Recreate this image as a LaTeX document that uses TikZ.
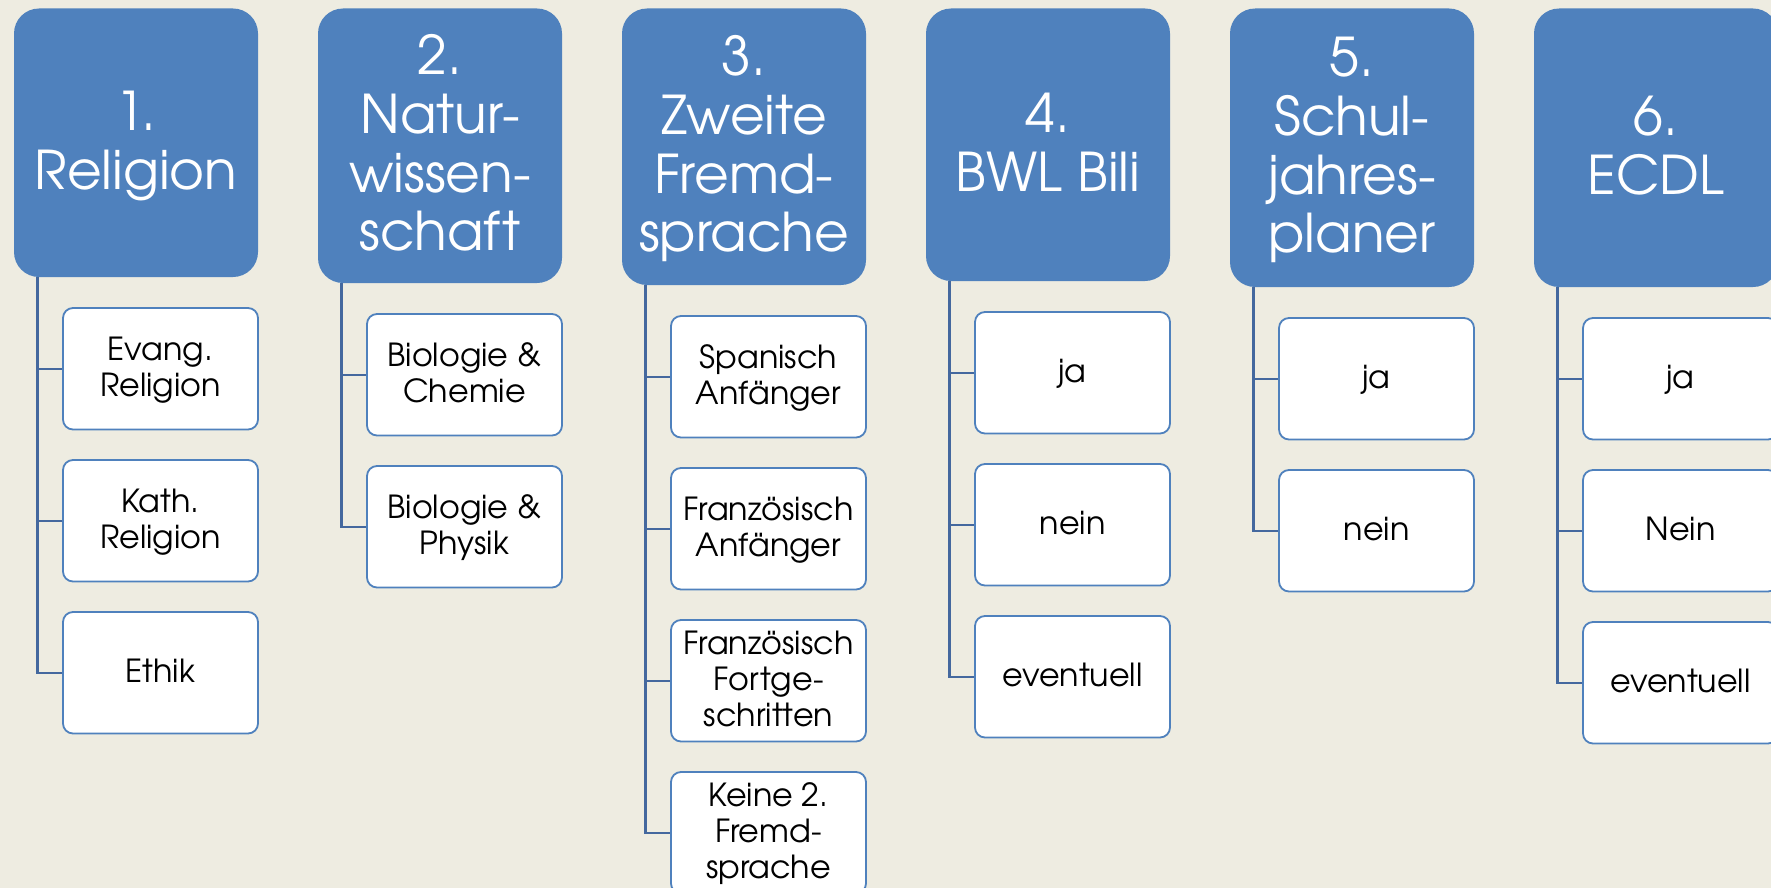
\documentclass[tikz,border=0pt]{standalone}
\usepackage{fontspec}
\setmainfont{texgyreadventor-regular.otf}
\usetikzlibrary{calc}
\definecolor{bgc}{HTML}{EEECE1}
\definecolor{acc}{HTML}{4F81BD}
\definecolor{linec}{HTML}{44689E}
% struts fixing the first-line top and last-line bottom
\newcommand\hT{\rule{0pt}{24pt}}
\newcommand\hB{\rule[-7pt]{0pt}{7pt}}
\newcommand\lT{\rule{0pt}{15pt}}
\newcommand\lB{\rule[-5pt]{0pt}{5pt}}
\tikzset{
  hdr/.style={rectangle, rounded corners=12.5pt, fill=acc, draw=none,
    text=white, align=center, inner sep=0pt, minimum width=122pt,
    font=\fontsize{26.7}{29.4}\selectfont},
  leaf/.style={rectangle, rounded corners=5pt, fill=white, draw=acc,
    line width=0.9pt, text=black, align=center, inner sep=0pt,
    minimum width=97.5pt, minimum height=60.75pt,
    font=\fontsize{15.9}{18}\selectfont},
  conn/.style={draw=linec, line width=1.2pt},
}
\begin{document}
\begin{tikzpicture}[x=0.5pt,y=-0.5pt]
\useasboundingbox (0,0) rectangle (1771,888);
\clip (0,0) rectangle (1771,888);
\fill[bgc] (0,0) rectangle (1771,888);

% headers
\node[hdr, minimum height=134.25pt] (h1) at (136,142.75) {\hT 1.\\Religion\hB};
\node[hdr, minimum height=137.25pt] (h2) at (440,145.75) {\hT 2.\\Natur-\\wissen-\\schaft\hB};
\node[hdr, minimum height=138.25pt] (h3) at (744,146.75) {\hT 3.\\Zweite\\Fremd-\\sprache\hB};
\node[hdr, minimum height=136.25pt] (h4) at (1048,144.75) {\hT 4.\\BWL Bili\hB};
\node[hdr, minimum height=139.25pt] (h5) at (1352,147.75) {\hT 5.\\Schul-\\jahres-\\planer\hB};
\node[hdr, minimum height=139.25pt] (h6) at (1656,147.75) {\hT 6.\\ECDL\hB};

% trunk tops
\foreach \i in {1,...,6} {
  \coordinate (t\i) at ($(h\i.south west)+(24,0)$);
}

% leaves column 1
\node[leaf] (a1) at (160.5,368.75) {\lT Evang.\\Religion\lB};
\node[leaf] (a2) at (160.5,520.75) {\lT Kath.\\Religion\lB};
\node[leaf] (a3) at (160.5,672.75) {\lT Ethik\lB};
% column 2
\node[leaf] (b1) at (464.5,374.75) {\lT Biologie \&\\Chemie\lB};
\node[leaf] (b2) at (464.5,526.75) {\lT Biologie \&\\Physik\lB};
% column 3
\node[leaf] (c1) at (768.5,376.75) {\lT Spanisch\\Anfänger\lB};
\node[leaf] (c2) at (768.5,528.75) {\lT Französisch\\Anfänger\lB};
\node[leaf] (c3) at (768.5,680.75) {\lT Französisch\\Fortge-\\schritten\lB};
\node[leaf] (c4) at (768.5,832.75) {\lT Keine 2.\\Fremd-\\sprache\lB};
% column 4
\node[leaf] (d1) at (1072.5,372.75) {\lT ja\lB};
\node[leaf] (d2) at (1072.5,524.75) {\lT nein\lB};
\node[leaf] (d3) at (1072.5,676.75) {\lT eventuell\lB};
% column 5
\node[leaf] (e1) at (1376.5,378.75) {\lT ja\lB};
\node[leaf] (e2) at (1376.5,530.75) {\lT nein\lB};
% column 6
\node[leaf] (f1) at (1680.5,378.75) {\lT ja\lB};
\node[leaf] (f2) at (1680.5,530.75) {\lT Nein\lB};
\node[leaf] (f3) at (1680.5,682.75) {\lT eventuell\lB};

% connectors
\foreach \n in {a1,a2,a3} \draw[conn] (t1) |- (\n.west);
\foreach \n in {b1,b2} \draw[conn] (t2) |- (\n.west);
\foreach \n in {c1,c2,c3,c4} \draw[conn] (t3) |- (\n.west);
\foreach \n in {d1,d2,d3} \draw[conn] (t4) |- (\n.west);
\foreach \n in {e1,e2} \draw[conn] (t5) |- (\n.west);
\foreach \n in {f1,f2,f3} \draw[conn] (t6) |- (\n.west);
\end{tikzpicture}
\end{document}
